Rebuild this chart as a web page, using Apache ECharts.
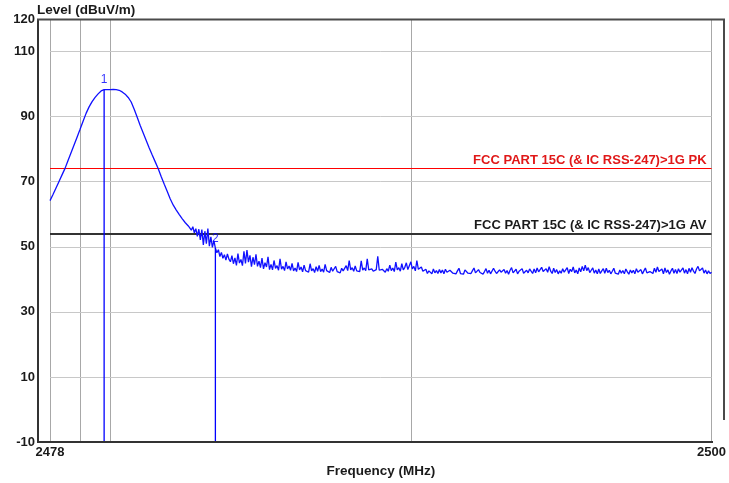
<!DOCTYPE html>
<html>
<head>
<meta charset="utf-8">
<script src="https://cdn.jsdelivr.net/npm/echarts@6/dist/echarts.min.js"></script>
<style>
  html, body { margin: 0; padding: 0; background: #ffffff; }
  #chart { width: 729px; height: 483px; }
</style>
</head>
<body>
<div id="chart"></div>
<script>
// Sweep: smooth carrier part (0.1 MHz steps), then noisy part (0.05 MHz steps)
const smoothStart = 2478.0;
const smoothStep = 0.1;
const smoothLevel = [
  64.2, 66.1, 68.1, 70.1, 72.1, 74.1, 76.5, 78.9, 81.3, 83.7,
  86.1, 88.6, 91.0, 93.0, 94.6, 95.9, 97.0, 97.9, 98.3, 98.3,
  98.3, 98.4, 98.3, 98.1, 97.6, 96.9, 95.9, 94.5, 92.3, 89.8,
  87.3, 85.0, 82.7, 80.4, 78.2, 76.1, 74.0, 71.5, 69.2, 67.0,
  64.7, 62.8, 61.3, 59.9, 58.6, 57.4, 56.4
];

const noiseStart = 2482.65;
const noiseStep = 0.05;
const noiseLevel = [
  56.0, 55.1, 56.2, 54.3, 55.6, 53.2, 55.4,
  52.1, 55.3, 50.6, 54.8, 51.0, 55.6, 50.2, 53.1, 49.8, 51.9, 49.6, 48.2, 49.1, 47.0, 48.3, 46.5, 47.6, 45.9, 47.8, 46.2,
  45.4, 47.3, 44.8, 46.6, 44.3, 47.9, 45.0, 46.1, 44.2, 48.6, 44.9, 49.0, 45.3, 47.4, 43.9, 46.8, 44.5, 47.7, 44.0, 45.6,
  43.6, 46.5, 43.2, 45.1, 43.8, 46.9, 43.0, 44.6, 42.9, 45.8, 43.4, 44.2, 42.8, 46.3, 43.1, 44.0, 42.7, 45.4, 43.2, 44.1,
  42.8, 44.9, 42.6, 43.5, 42.4, 45.2, 42.9, 43.8, 42.3, 44.4, 42.7, 43.1, 42.2, 44.8, 42.6, 43.3, 42.1, 43.9, 42.5, 44.3,
  42.4, 43.2, 42.2, 44.6, 42.7, 42.9, 42.1, 43.7, 42.5, 42.3, 44.0, 42.4, 42.8, 42.0, 43.4, 42.6, 42.2, 44.2, 42.7, 45.8,
  42.9, 43.6, 42.5, 44.1, 42.6, 43.0, 42.4, 45.7, 42.8, 43.5, 42.7, 46.3, 42.9, 42.3, 43.2, 42.5, 42.6, 43.0, 47.1, 42.8,
  42.4, 43.1, 42.6, 42.2, 43.3, 42.5, 44.4, 42.7, 43.5, 42.4, 45.3, 42.9, 43.6, 42.5, 44.8, 42.9, 43.7, 45.1, 43.0, 44.2,
  45.4, 43.2, 44.0, 42.6, 45.8, 43.1, 42.9, 43.8, 42.5, 42.0, 43.1, 41.8, 42.6, 42.9, 41.7, 43.2, 42.0, 42.7, 41.8, 43.0,
  42.0, 42.9, 41.7, 43.1, 42.2, 41.6, 42.8, 43.3, 41.9, 42.4, 41.7, 42.6, 43.4, 41.8, 42.3, 41.6, 42.9, 43.2, 41.9, 42.5,
  41.8, 42.7, 43.5, 42.0, 41.7, 43.0, 42.1, 42.6, 41.6, 42.4, 43.3, 41.9, 42.8, 41.7, 42.2, 43.4, 42.5, 41.8, 41.6, 42.9,
  42.2, 41.7, 43.0, 41.9, 42.7, 41.6, 42.8, 43.6, 42.0, 41.8, 43.1, 41.7, 42.5, 42.1, 43.3, 41.9, 41.6, 42.8, 42.0, 43.2,
  42.6, 41.8, 43.2, 42.0, 43.5, 42.3, 41.7, 43.7, 42.4, 41.9, 43.3, 42.2, 43.9, 42.5, 41.8, 43.4, 42.1, 43.0, 41.7, 42.6,
  41.9, 43.3, 42.2, 42.8, 43.6, 41.8, 43.1, 42.4, 43.8, 42.0, 42.9, 41.7, 43.5, 42.3, 44.0, 42.6, 44.4, 42.7, 43.6, 42.1,
  42.8, 43.5, 41.9, 42.9, 41.7, 43.2, 41.8, 42.6, 43.3, 41.9, 43.4, 42.1, 42.8, 41.7, 42.5, 43.4, 41.9, 42.3, 41.6, 42.9,
  41.9, 42.7, 41.7, 43.2, 42.3, 41.6, 42.9, 42.0, 42.8, 41.7, 43.3, 42.2, 41.9, 43.0, 41.7, 42.6, 43.5, 42.0, 41.6, 42.4,
  43.0, 41.8, 43.4, 42.2, 43.8, 42.4, 41.9, 43.2, 41.7, 43.5, 42.1, 42.9, 41.6, 42.6, 43.4, 41.9, 43.0, 41.8, 43.3, 42.2,
  42.7, 43.5, 41.9, 43.0, 41.7, 43.4, 42.2, 43.6, 42.5, 41.8, 43.2, 44.0, 42.6, 42.0, 43.5, 41.9, 42.9, 41.7, 42.6, 41.8,
  42.2
];

// Limit lines
const limitNames = ['FCC PART 15C (& IC RSS-247)>1G PK', 'FCC PART 15C (& IC RSS-247)>1G AV'];
const limitValues = [74, 54];
const limitLineColors = ['#ff0000', '#333333'];
const limitTextColors = ['#e01818', '#1a1a1a'];
const limitWidths = [1.2, 2];

// Markers
const markerNames = ['1', '2'];
const markerFreqs = [2479.8, 2483.5];

// Axis
const freqMin = 2478, freqMax = 2500;
const freqGrid = [2478, 2479, 2480, 2490, 2500];
const freqLabels = [2478, 2500];
const levelMin = -10, levelMax = 120;
const levelGrid = [-10, 10, 30, 50, 70, 90, 110];
const levelLabels = [-10, 10, 30, 50, 70, 90, 110, 120];

// Build trace
const trace = [];
smoothLevel.forEach((v, i) => trace.push([+(smoothStart + i * smoothStep).toFixed(2), v]));
noiseLevel.forEach((v, i) => trace.push([+(noiseStart + i * noiseStep).toFixed(2), v]));

function levelAt(f) {
  let best = trace[0];
  for (const p of trace) if (Math.abs(p[0] - f) < Math.abs(best[0] - f)) best = p;
  return best[1];
}

const FONT = '"Liberation Sans", Arial, sans-serif';
const TXT = '#1a1a1a';

const markerSeries = [];
markerFreqs.forEach((f, i) => {
  const lvl = levelAt(f);
  markerSeries.push({
    type: 'line', z: 6, silent: true, showSymbol: false, symbol: 'none',
    lineStyle: { color: '#0000ff', width: 1.3 },
    data: [[f, lvl], [f, levelMin]]
  });
  markerSeries.push({
    type: 'scatter', z: 7, silent: true, symbolSize: 1,
    itemStyle: { color: 'rgba(0,0,0,0)' },
    label: { show: true, position: 'top', distance: 3, formatter: markerNames[i],
      color: '#0000ff', fontSize: 12, fontFamily: FONT },
    data: [[f, lvl]]
  });
});

const limitSeries = limitValues.map((v, i) => ({
  type: 'line', z: 2, silent: true, data: [],
  markLine: {
    silent: true, symbol: 'none', animation: false,
    lineStyle: { color: limitLineColors[i], width: limitWidths[i], type: 'solid' },
    label: {
      show: true, position: 'insideEndTop', distance: [5, 2], formatter: limitNames[i],
      color: limitTextColors[i], fontSize: 13, fontWeight: 'bold', fontFamily: FONT
    },
    data: [{ yAxis: v }]
  }
}));

const chart = echarts.init(document.getElementById('chart'), null, { renderer: 'canvas' });
chart.setOption({
  animation: false,
  backgroundColor: '#ffffff',
  grid: { left: 50, right: 17.3, top: 19, bottom: 40.5 },
  xAxis: {
    type: 'value', min: freqMin, max: freqMax, interval: 1,
    name: 'Frequency (MHz)', nameLocation: 'middle', nameGap: 21,
    nameTextStyle: { color: TXT, fontSize: 13.5, fontWeight: 'bold', fontFamily: FONT },
    axisLine: { show: false }, axisTick: { show: false }, splitLine: { show: false },
    axisLabel: {
      margin: 4, color: TXT, fontSize: 13, fontWeight: 'bold', fontFamily: FONT,
      showMinLabel: true, showMaxLabel: true,
      formatter: v => freqLabels.includes(Math.round(v)) ? String(Math.round(v)) : ''
    }
  },
  yAxis: {
    type: 'value', min: levelMin, max: levelMax, interval: 10,
    axisLine: { show: false }, axisTick: { show: false }, splitLine: { show: false },
    axisLabel: {
      margin: 15, color: TXT, fontSize: 13, fontWeight: 'bold', fontFamily: FONT,
      showMinLabel: true, showMaxLabel: true,
      formatter: v => levelLabels.includes(Math.round(v)) ? String(Math.round(v)) : ''
    }
  },
  graphic: [
    { type: 'text', left: 37, top: 3, z: 10,
      style: { text: 'Level (dBuV/m)', fill: TXT, font: 'bold 13.5px ' + FONT } },
    { type: 'line', z: 10, shape: { x1: 38, y1: 19, x2: 38, y2: 442 }, style: { stroke: '#333333', lineWidth: 2 } },
    { type: 'line', z: 10, shape: { x1: 37, y1: 442, x2: 713, y2: 442 }, style: { stroke: '#333333', lineWidth: 2 } },
    { type: 'line', z: 10, shape: { x1: 37, y1: 19.5, x2: 725, y2: 19.5 }, style: { stroke: '#4a4a4a', lineWidth: 2 } },
    { type: 'line', z: 10, shape: { x1: 724, y1: 19, x2: 724, y2: 420 }, style: { stroke: '#4a4a4a', lineWidth: 2 } }
  ],
  series: [
    {
      type: 'line', z: 1, silent: true, data: [],
      markLine: {
        silent: true, symbol: 'none', animation: false, label: { show: false },
        data: [
          ...freqGrid.map(f => ({ xAxis: f, lineStyle: { color: '#a8a8a8', width: 1, type: 'solid' } })),
          ...levelGrid.map(l => ({ yAxis: l, lineStyle: { color: '#c8c8c8', width: 1, type: 'solid' } }))
        ]
      }
    },
    ...limitSeries,
    {
      type: 'line', z: 5, silent: true, showSymbol: false, symbol: 'none', sampling: null,
      lineStyle: { color: '#1010ff', width: 1.3 },
      data: trace
    },
    ...markerSeries
  ]
});
</script>
</body>
</html>
